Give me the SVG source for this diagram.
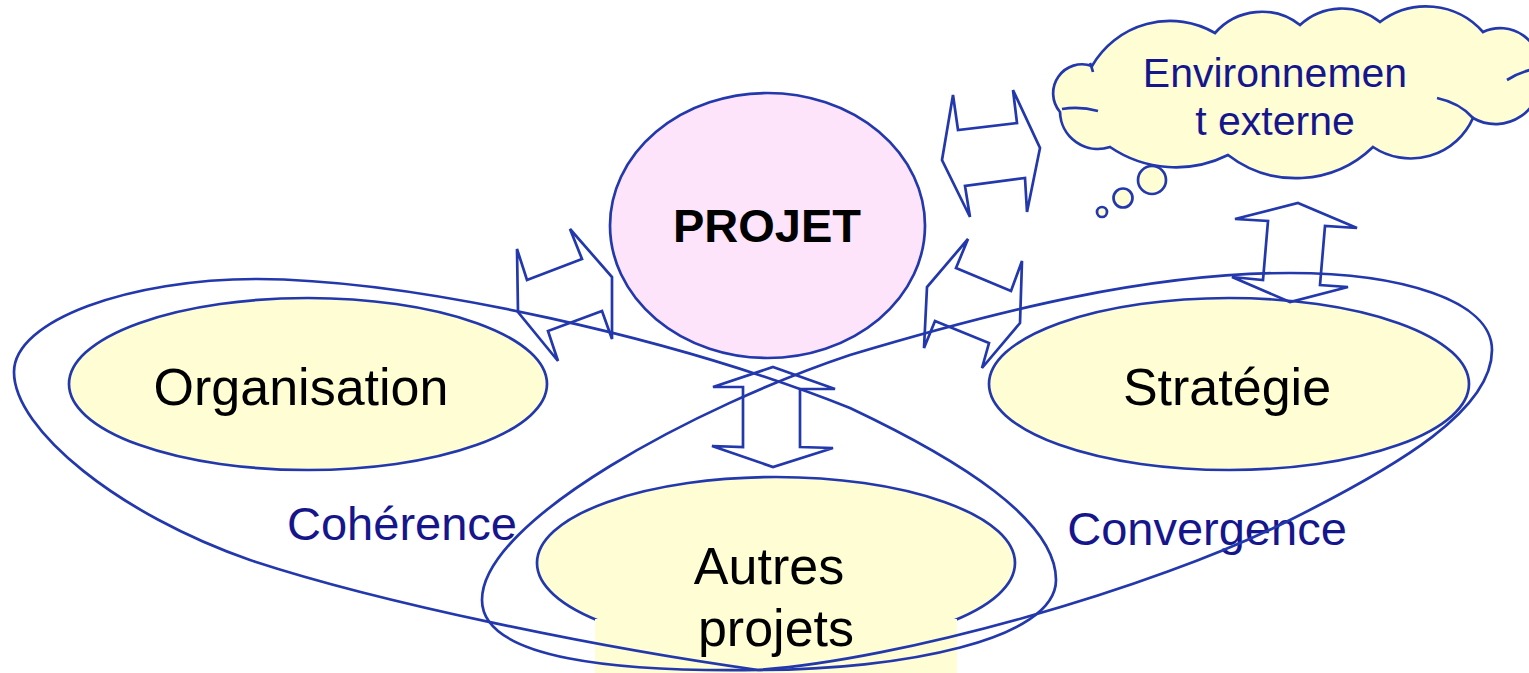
<svg xmlns="http://www.w3.org/2000/svg" width="1529" height="673" viewBox="0 0 1529 673">
  <style>
    .shape { stroke: #2338ac; stroke-width: 2.7; }
    .yellow { fill: #fefdd4; }
    .line { fill: none; stroke: #2338ac; stroke-width: 2.7; stroke-linejoin: miter; }
    .txt { font-family: "Liberation Sans", Arial, sans-serif; fill: #000000; text-anchor: middle; }
    .blue { font-family: "Liberation Sans", Arial, sans-serif; fill: #16168c; text-anchor: middle; }
  </style>
  <rect width="1529" height="673" fill="#ffffff"/>

  <g id="node-environnement">
    <path class="shape yellow" d="M1092,66 A90,90 0 0 1 1215,33 A62,62 0 0 1 1300,25 A61,61 0 0 1 1380,22 A76,76 0 0 1 1483,32 A40,40 0 0 1 1540,72 A45,45 0 0 1 1473,118 A68,68 0 0 1 1373,147 A111,111 0 0 1 1228,155 A117,117 0 0 1 1110,147 A38,38 0 0 1 1060,112 A29,29 0 0 1 1092,66 Z"/>
    <path class="line" d="M1062,109 Q1080,106 1098,111 M1437,98 Q1460,103 1473,118 M1507,80 Q1518,73 1530,70 M1090,63 Q1092,68 1093,72"/>
    <circle class="shape yellow" cx="1152" cy="180" r="14"/>
    <circle class="shape yellow" cx="1123" cy="198" r="9.5"/>
    <circle class="shape yellow" cx="1102" cy="212" r="5"/>
    <text class="blue" x="1275" y="87" font-size="41">Environnemen</text>
    <text class="blue" x="1275" y="135" font-size="41">t externe</text>
  </g>

  <g id="node-projet">
    <ellipse class="shape" fill="#fde4fb" cx="767.5" cy="225.5" rx="157.5" ry="132.5"/>
    <text class="txt" x="767" y="242" font-size="47" font-weight="bold">PROJET</text>
  </g>

  <g id="node-organisation">
    <ellipse class="shape yellow" cx="308" cy="384" rx="239" ry="86"/>
    <text class="txt" x="301" y="405" font-size="52">Organisation</text>
  </g>

  <g id="node-strategie">
    <ellipse class="shape yellow" cx="1229" cy="384" rx="240" ry="86"/>
    <text class="txt" x="1227" y="405" font-size="52">Stratégie</text>
  </g>

  <g id="node-autres">
    <ellipse class="shape yellow" cx="776" cy="563" rx="239" ry="86"/>
    <rect class="yellow" x="595" y="619" width="362" height="54"/>
    <text class="txt" x="769" y="584" font-size="52">Autres</text>
    <text class="txt" x="776" y="646" font-size="52">projets</text>
  </g>

  <g id="label-coherence">
    <text class="blue" x="402" y="540" font-size="47">Cohérence</text>
  </g>
  <g id="label-convergence">
    <text class="blue" x="1207" y="545" font-size="47">Convergence</text>
  </g>

  <g id="connectors">
    <!-- loop enclosing Organisation and Autres projets -->
    <path class="line" d="M14,372 C14,320 130,279 257,279 C420,280 680,340 850,408 C960,460 1056,520 1056,580 C1056,640 900,670 758,670 C600,648 380,603 250,560 C120,515 14,430 14,372 Z"/>
    <!-- loop enclosing Strategie and Autres projets -->
    <path class="line" d="M1492,350 C1492,300 1400,273 1290,273 C1150,273 1000,310 850,355 C700,405 482,520 482,600 C482,660 620,672 758,670 C900,660 1150,590 1290,520 C1400,465 1492,410 1492,350 Z"/>

    <!-- PROJET <-> Organisation -->
    <polygon class="line" points="570,229 582,259 527,280 517,249 518,312 558,361 548,331 602,311 612,339 612,277"/>
    <!-- PROJET <-> Strategie -->
    <polygon class="line" points="968,239 956,268 1011,291 1022,261 1020,323 982,368 989,343 935,321 924,348 927,287"/>
    <!-- PROJET <-> Environnement -->
    <polygon class="line" points="942,160 953,95 958,130 1017,123 1013,90 1040,148 1027,212 1025,178 965,186 970,217"/>
    <!-- PROJET <-> Autres projets -->
    <polygon class="line" points="773,367 835,389 800,389 800,447 833,448 773,467 712,446 743,447 743,387 713,387"/>
    <!-- Strategie <-> Environnement -->
    <polygon class="line" points="1298,203 1357,228 1325,226 1320,285 1348,287 1290,302 1232,277 1263,280 1268,221 1235,219"/>
  </g>
</svg>
